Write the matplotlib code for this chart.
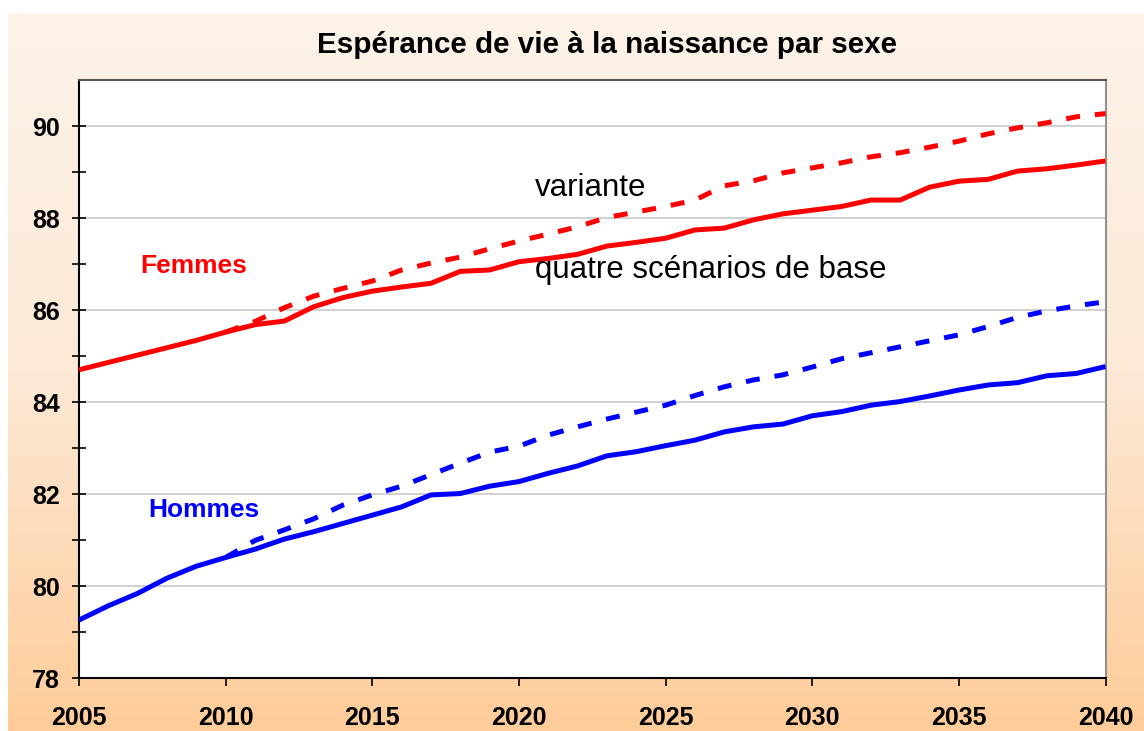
import numpy as np
import matplotlib.pyplot as plt
from matplotlib.colors import LinearSegmentedColormap

plt.rcParams['font.family'] = ['Liberation Sans', 'DejaVu Sans']

# Data
years = list(range(2005, 2041))
variant_years = list(range(2010, 2041))

femmes_base = [84.70, 84.86, 85.02, 85.18, 85.34, 85.52, 85.68, 85.76, 86.07, 86.27,
               86.41, 86.50, 86.58, 86.84, 86.87, 87.05, 87.12, 87.21, 87.39, 87.47,
               87.56, 87.74, 87.78, 87.96, 88.09, 88.17, 88.25, 88.39, 88.39, 88.67,
               88.80, 88.84, 89.02, 89.07, 89.15, 89.24]
femmes_variante = [85.52, 85.75, 86.05, 86.30, 86.47, 86.63, 86.87, 87.02, 87.15, 87.33,
                   87.50, 87.65, 87.81, 88.01, 88.13, 88.25, 88.39, 88.70, 88.81, 88.98,
                   89.09, 89.20, 89.33, 89.42, 89.54, 89.67, 89.83, 89.96, 90.07, 90.20, 90.27]
hommes_base = [79.26, 79.57, 79.84, 80.17, 80.43, 80.62, 80.80, 81.02, 81.18, 81.36,
               81.54, 81.72, 81.98, 82.01, 82.17, 82.27, 82.45, 82.61, 82.83, 82.92,
               83.05, 83.17, 83.35, 83.46, 83.52, 83.70, 83.79, 83.93, 84.01, 84.13,
               84.26, 84.37, 84.42, 84.57, 84.62, 84.77]
hommes_variante = [80.62, 80.99, 81.22, 81.46, 81.76, 81.98, 82.17, 82.42, 82.67, 82.91,
                   83.04, 83.28, 83.46, 83.63, 83.78, 83.93, 84.14, 84.33, 84.48, 84.59,
                   84.76, 84.94, 85.07, 85.20, 85.33, 85.46, 85.64, 85.84, 85.98, 86.09, 86.18]

x_ticks = [2005, 2010, 2015, 2020, 2025, 2030, 2035, 2040]
y_ticks = [78, 80, 82, 84, 86, 88, 90]

W, H = 1144, 731
fig = plt.figure(figsize=(W / 100, H / 100), dpi=100)

# gradient background (cream -> peach)
bg = fig.add_axes([8 / W, 0, 1 - 8 / W, (H - 13) / H], zorder=0)
cmap = LinearSegmentedColormap.from_list('bg', ['#FDF3E9', '#FCE9D6', '#FFCC99'])
bg.imshow(np.linspace(0, 1, 256).reshape(-1, 1), aspect='auto', cmap=cmap,
          extent=[0, 1, 0, 1], origin='upper')
bg.axis('off')

ax = fig.add_axes([79 / W, (H - 678) / H, (1105.5 - 79) / W, (678 - 80) / H], zorder=1)
ax.set_facecolor('white')

lw = 3.6
dash = (2.8, 3.0)
ax.plot(years, femmes_base, color='#FF0000', lw=lw, solid_capstyle='butt', zorder=3)
ax.plot(variant_years, femmes_variante, color='#FF0000', lw=lw, dashes=dash,
        dash_capstyle='butt', zorder=3)
ax.plot(years, hommes_base, color='#0000FF', lw=lw, solid_capstyle='butt', zorder=3)
ax.plot(variant_years, hommes_variante, color='#0000FF', lw=lw, dashes=dash,
        dash_capstyle='butt', zorder=3)

ax.set_xlim(2005, 2040)
ax.set_ylim(78, 91)
ax.set_xticks(x_ticks)
ax.set_yticks(y_ticks)
ax.set_yticks(range(79, 91, 2), minor=True)
ax.yaxis.grid(True, which='major', color='#C8C8C8', lw=1.2)
ax.set_axisbelow(True)

ax.tick_params(axis='y', which='both', direction='inout', length=10, width=1.2,
               labelsize=18, pad=9)
ax.tick_params(axis='x', direction='out', length=6, width=1.2, labelsize=18, pad=14)
for lab in ax.get_xticklabels() + ax.get_yticklabels():
    lab.set_fontweight('bold')

for side, col in [('left', 'black'), ('bottom', 'black'), ('top', '#555555'), ('right', '#909090')]:
    ax.spines[side].set_color(col)
    ax.spines[side].set_linewidth(1.5)

ax.text(2007.08, 86.96, 'Femmes', color='#FF0000', fontsize=19, fontweight='bold',
        va='center', ha='left')
ax.text(2007.35, 81.65, 'Hommes', color='#0000FF', fontsize=19, fontweight='bold',
        va='center', ha='left')
ax.text(2020.56, 88.65, 'variante', color='black', fontsize=22.5, va='center', ha='left')
ax.text(2020.56, 86.87, 'quatre scénarios de base', color='black', fontsize=22.5,
        va='center', ha='left')

fig.text(607 / W, 1 - 45 / H, 'Espérance de vie à la naissance par sexe',
         ha='center', va='center', fontsize=21.3, fontweight='bold')

fig.savefig('out.png', dpi=100)
